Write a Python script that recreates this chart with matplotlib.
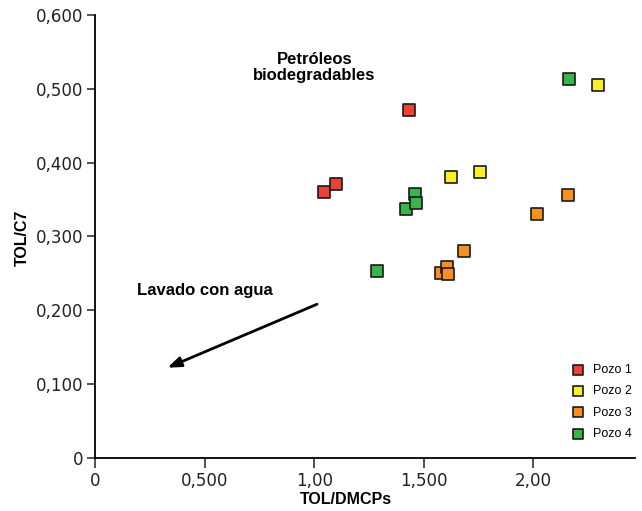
import matplotlib
matplotlib.use("Agg")
import matplotlib.pyplot as plt
from matplotlib.ticker import FixedLocator, FixedFormatter

plt.rcParams['font.family'] = ['Liberation Sans', 'DejaVu Sans']

# TOL/DMCPs (x) and TOL/C7 (y) per well
pozo1_x = [1.043, 1.097, 1.432]
pozo1_y = [0.360, 0.371, 0.471]
pozo2_x = [1.624, 1.758, 2.294]
pozo2_y = [0.380, 0.387, 0.505]
pozo3_x = [1.579, 1.606, 1.609, 1.682, 2.017, 2.160]
pozo3_y = [0.250, 0.258, 0.249, 0.280, 0.330, 0.356]
pozo4_x = [1.286, 1.420, 1.460, 1.466, 2.163]
pozo4_y = [0.253, 0.337, 0.358, 0.345, 0.513]

series = [
    ("Pozo 1", pozo1_x, pozo1_y, "#ec4136"),
    ("Pozo 2", pozo2_x, pozo2_y, "#f7ee2c"),
    ("Pozo 3", pozo3_x, pozo3_y, "#f7901e"),
    ("Pozo 4", pozo4_x, pozo4_y, "#39b54a"),
]

x_ticks = [0, 0.5, 1.0, 1.5, 2.0]
x_tick_labels = ["0", "0,500", "1,00", "1,500", "2,00"]
y_ticks = [0, 0.1, 0.2, 0.3, 0.4, 0.5, 0.6]
y_tick_labels = ["0", "0,100", "0,200", "0,300", "0,400", "0,500", "0,600"]

W, H = 642, 511
fig = plt.figure(figsize=(W / 100, H / 100), dpi=100)
ax = fig.add_axes([95.5 / W, 1 - 457.7 / H, (635 - 95.5) / W, (457.7 - 15) / H])

for name, xs, ys, color in series:
    ax.scatter(xs, ys, marker="s", s=78, facecolor=color, edgecolor="#1a1a1a",
               linewidths=1.2, label=name, zorder=3)

ax.set_xlim(0, 2.465)
ax.set_ylim(0, 0.6)

ax.xaxis.set_major_locator(FixedLocator(x_ticks))
ax.xaxis.set_major_formatter(FixedFormatter(x_tick_labels))
ax.yaxis.set_major_locator(FixedLocator(y_ticks))
ax.yaxis.set_major_formatter(FixedFormatter(y_tick_labels))

for side in ("top", "right"):
    ax.spines[side].set_visible(False)
for side in ("left", "bottom"):
    ax.spines[side].set_linewidth(1.3)
    ax.spines[side].set_color("black")

ax.tick_params(axis="x", direction="out", length=7, width=1.1, pad=3,
               labelsize=12, colors="#222222", labelfontfamily="DejaVu Sans")
ax.tick_params(axis="y", direction="out", length=5.5, width=1.1, pad=3,
               labelsize=12, colors="#222222", labelfontfamily="DejaVu Sans")

# axis titles
fig.text(346 / W, 1 - 500 / H, "TOL/DMCPs", ha="center", va="center",
         fontsize=11.5, fontweight="bold")
fig.text(22 / W, 1 - 238 / H, "TOL/C7", ha="center", va="center",
         rotation=90, fontsize=11.5, fontweight="bold")

ax.text(1.0, 0.529, "Petróleos\nbiodegradables", ha="center", va="center",
        fontsize=12, fontweight="bold", linespacing=1.1)
ax.text(0.19, 0.227, "Lavado con agua", ha="left", va="center",
        fontsize=12, fontweight="bold")

ax.annotate("", xy=(0.329, 0.122), xytext=(1.012, 0.208),
            arrowprops=dict(arrowstyle="-|>,head_length=0.8,head_width=0.3",
                            color="black", lw=2, shrinkA=0, shrinkB=0))

ax.legend(loc="lower right", bbox_to_anchor=(1.01, 0.02), frameon=False,
          fontsize=9, handletextpad=0.2, labelspacing=0.75,
          markerscale=0.75, borderaxespad=0.3)

fig.savefig("out.png", dpi=100)
